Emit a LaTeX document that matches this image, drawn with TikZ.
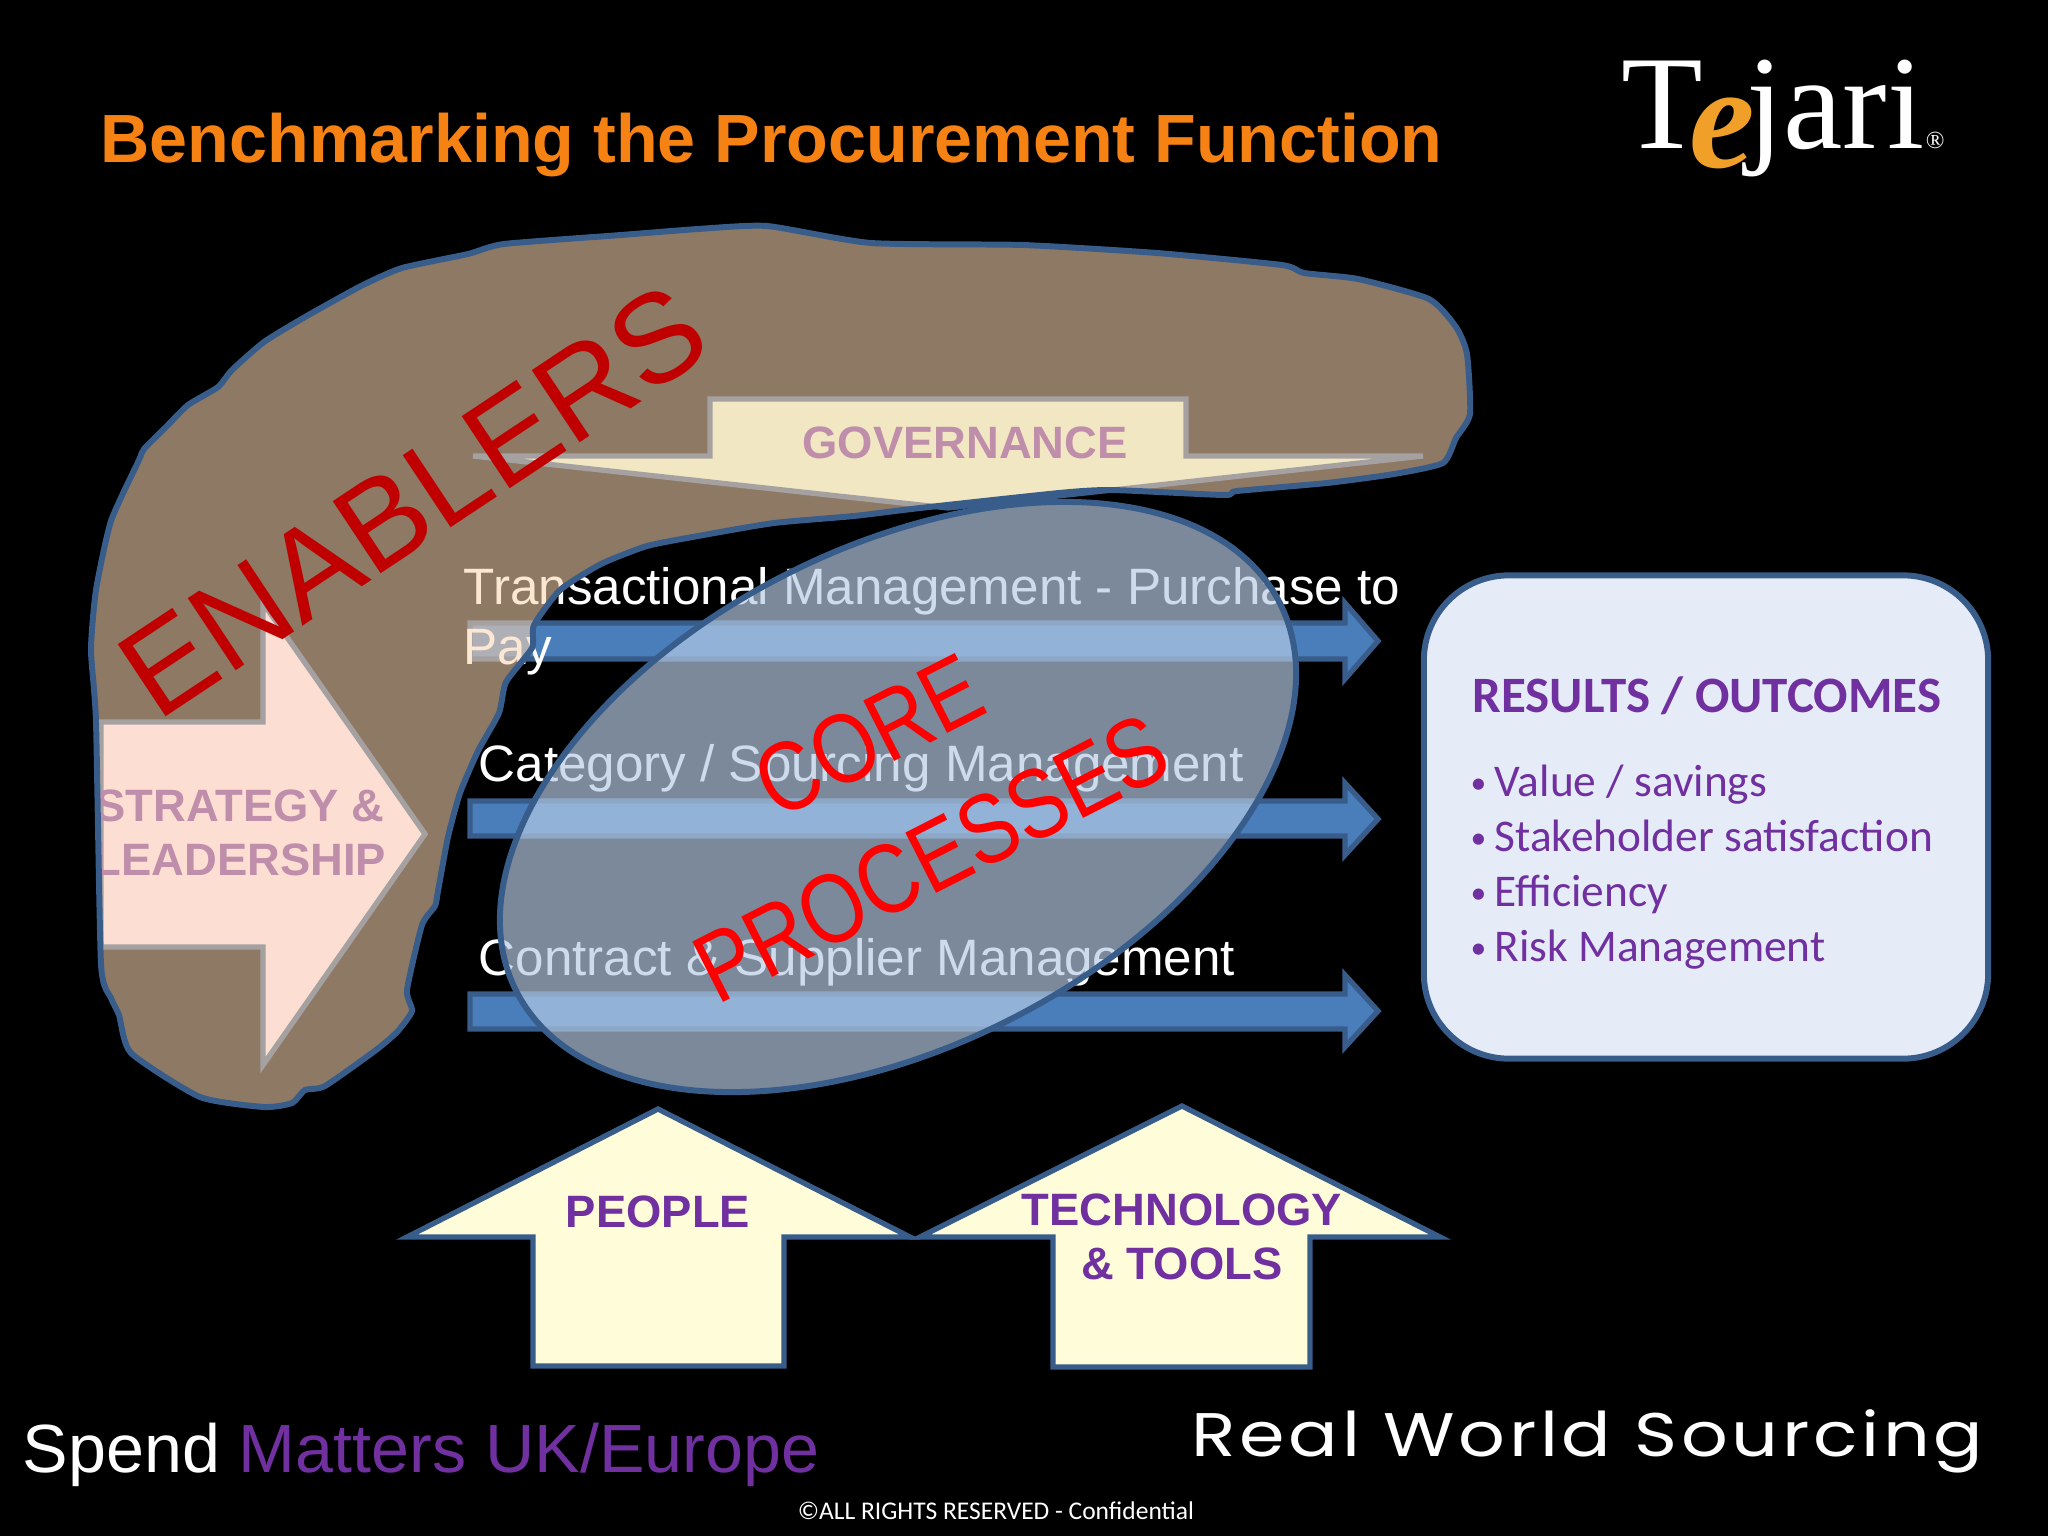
\documentclass[tikz,border=0pt]{standalone}
\usepackage{fontspec}
\usepackage{tikz}
\usetikzlibrary{shapes.geometric}
\setmainfont{Liberation Sans}
\newfontfamily\logofont{Liberation Serif}
\newfontfamily\calfont{Carlito}
\newfontfamily\techfont[LetterSpace = 6, FakeStretch = 1.19]{Poppins}
\newfontfamily\corefont[FakeStretch = 0.84]{Liberation Sans}
\definecolor{niceorange}{RGB}{247, 130, 20}
\definecolor{logoorange}{RGB}{240, 160, 40}
\definecolor{nicepurple}{RGB}{112, 48, 160}
\definecolor{niceblue}{RGB}{74, 126, 187}
\definecolor{niceblueD}{RGB}{56, 93, 138}
\definecolor{blobfill}{RGB}{251, 214, 179}
\definecolor{corefill}{RGB}{182, 203, 229}
\definecolor{resultfill}{RGB}{230, 236, 247}
\definecolor{paleyellow}{RGB}{255, 252, 218}
\definecolor{govfill}{RGB}{232, 255, 218}
\definecolor{palepink}{RGB}{255, 235, 253}
\definecolor{darkred}{RGB}{192, 0, 0}
\newcommand{\resultitem}[1]{\makebox[0.24cm][l]{\raisebox{0.8pt}{\fontsize{9}{9}\selectfont\textbullet}}#1}
\tikzset{
	shape arrow/.style = {draw = niceblueD, line width = 1.5pt},
	process bar/.style = {shape arrow, fill = niceblue},
	bold label/.style = {font = \bfseries\fontsize{12.9}{15.2}\selectfont, text = nicepurple, align = center, inner sep = 0pt},
	process label/.style = {font = \fontsize{14.55}{17}\selectfont, text = white, align = left, anchor = base west, inner sep = 0pt}
}

\begin{document}
\begin{tikzpicture}[x = 0.01cm, y = -0.01cm]
	\fill [black] (0,0) rectangle (2048,1536);
	\useasboundingbox (0,0) rectangle (2048,1536);
	% three processes
	\draw [process bar] (470,623) -- (1345,623) -- (1345,603) -- (1378,641) -- (1345,679) -- (1345,659) -- (470,659) -- cycle;
	\draw [process bar] (470,801) -- (1345,801) -- (1345,783) -- (1378,819) -- (1345,855) -- (1345,836) -- (470,836) -- cycle;
	\draw [process bar] (470,994) -- (1345,994) -- (1345,975) -- (1378,1011) -- (1345,1047) -- (1345,1029) -- (470,1029) -- cycle;
	\node (transactional) at (463,664) [process label] {Transactional Management - Purchase to\\Pay};
	\node (category) at (478,781) [process label] {Category / Sourcing Management};
	\node (contract) at (478,975) [process label] {Contract \& Supplier Management};
	% arrows below the enablers
	\draw [shape arrow, fill = palepink] (101,722) -- (263,722) -- (263,603) -- (425,834) -- (263,1065) -- (263,947) -- (101,947) -- cycle;
	\draw [shape arrow, fill = govfill] (710,399) -- (1186,399) -- (1186,456) -- (1423,456) -- (948,508) -- (473,456) -- (710,456) -- cycle;
	\node (strategy) at (240,833) [bold label] {STRATEGY \&\\LEADERSHIP};
	\node (governance) at (965,443) [bold label] {GOVERNANCE};
	% enablers
	\draw [draw = niceblueD, line width = 1.7pt, fill = blobfill, fill opacity = 0.57] plot [smooth cycle, tension = 0.35] coordinates {
		(91,650) (96,590) (111,521) (139,460) (144,449) (167,426) (188,405) (218,387) (232,370) (264,342) (305,317) (361,286) (402,268) (468,254) (504,244)
		(621,235) (698,229) (767,226) (871,243) (1023,245) (1157,253) (1282,265) (1304,273) (1358,279) (1429,299) (1456,327) (1467,354) (1470,414)
		(1456,438) (1443,463) (1394,474) (1327,483) (1237,491) (1224,495) (1112,490) (1059,493) (920,508) (854,516) (774,523) (698,536) (647,546)
		(601,564) (560,590) (534,625) (532,648) (506,682) (499,713) (478,751) (460,793) (448,837) (438,891) (435,906) (422,925) (407,990) (412,1011)
		(397,1032) (376,1050) (325,1086) (305,1090) (292,1103) (264,1107) (200,1097) (131,1053) (119,1015) (111,998) (101,964) (96,722)
	};
	\node (enablers) at (413,501) [rotate = 33.6, text = darkred, font = \fontsize{35.8}{40}\selectfont, inner sep = 0pt] {ENABLERS};
	% core processes
	\node (core) at (898,797) [ellipse, rotate = 27, draw = niceblueD, line width = 1.7pt, fill = corefill, fill opacity = 0.68, draw opacity = 1, minimum width = 8.56cm, minimum height = 4.98cm, inner sep = 0pt] {};
	\node (coretext) at (900,797) [rotate = 27, text = red, align = center, font = \corefont\fontsize{28}{39}\selectfont, inner sep = 0pt] {CORE\\PROCESSES};
	% results
	\node (results) at (1706,817) [rectangle, rounded corners = 0.85cm, draw = niceblueD, line width = 1.7pt, fill = resultfill, minimum width = 5.64cm, minimum height = 4.83cm] {};
	\node (resulthead) at (1472,712) [anchor = base west, text = nicepurple, font = \calfont\bfseries\fontsize{14.5}{17}\selectfont, inner sep = 0pt] {RESULTS / OUTCOMES};
	\node (resultlist) at (1470,867) [anchor = west, text = nicepurple, align = left, font = \calfont\fontsize{12.9}{15.6}\selectfont, inner sep = 0pt] {\resultitem{Value / savings}\\\resultitem{Stakeholder satisfaction}\\\resultitem{Efficiency}\\\resultitem{Risk Management}};
	% people and technology
	\draw [shape arrow, fill = paleyellow] (533,1366) -- (533,1237) -- (407,1237) -- (658,1109) -- (910,1237) -- (784,1237) -- (784,1366) -- cycle;
	\draw [shape arrow, fill = paleyellow] (1053,1367) -- (1053,1237) -- (920,1237) -- (1182,1106) -- (1440,1237) -- (1310,1237) -- (1310,1367) -- cycle;
	\node (people) at (658,1212) [bold label] {PEOPLE};
	\node (technology) at (1182,1237) [bold label] {TECHNOLOGY\\\& TOOLS};
	% header and footer
	\node (title) at (100,162) [anchor = base west, text = niceorange, font = \bfseries\fontsize{19.4}{22}\selectfont, inner sep = 0pt] {Benchmarking the Procurement Function};
	\node (tejari) at (1621,148) [anchor = base west, text = white, font = \logofont\fontsize{38}{40}\selectfont, inner sep = 0pt] {T\kern-4pt\raisebox{-5.5pt}{\textcolor{logoorange}{\fontsize{42}{42}\selectfont\bfseries\itshape e}}\kern-2.5pt jari\kern0.5pt{\fontsize{7}{8}\selectfont\textregistered}};
	\node (spend) at (22,1472) [anchor = base west, text = white, font = \fontsize{19.4}{22}\selectfont, inner sep = 0pt] {Spend \textcolor{nicepurple}{Matters UK/Europe}};
	\node (rws) at (1191,1456) [anchor = base west, text = white, font = \techfont\fontsize{17.5}{20}\selectfont, inner sep = 0pt] {Real World Sourcing};
	\node (rights) at (996,1511) [text = white, font = \calfont\fontsize{7.25}{8}\selectfont, inner sep = 0pt] {©ALL RIGHTS RESERVED - Confidential};
\end{tikzpicture}
\end{document}
